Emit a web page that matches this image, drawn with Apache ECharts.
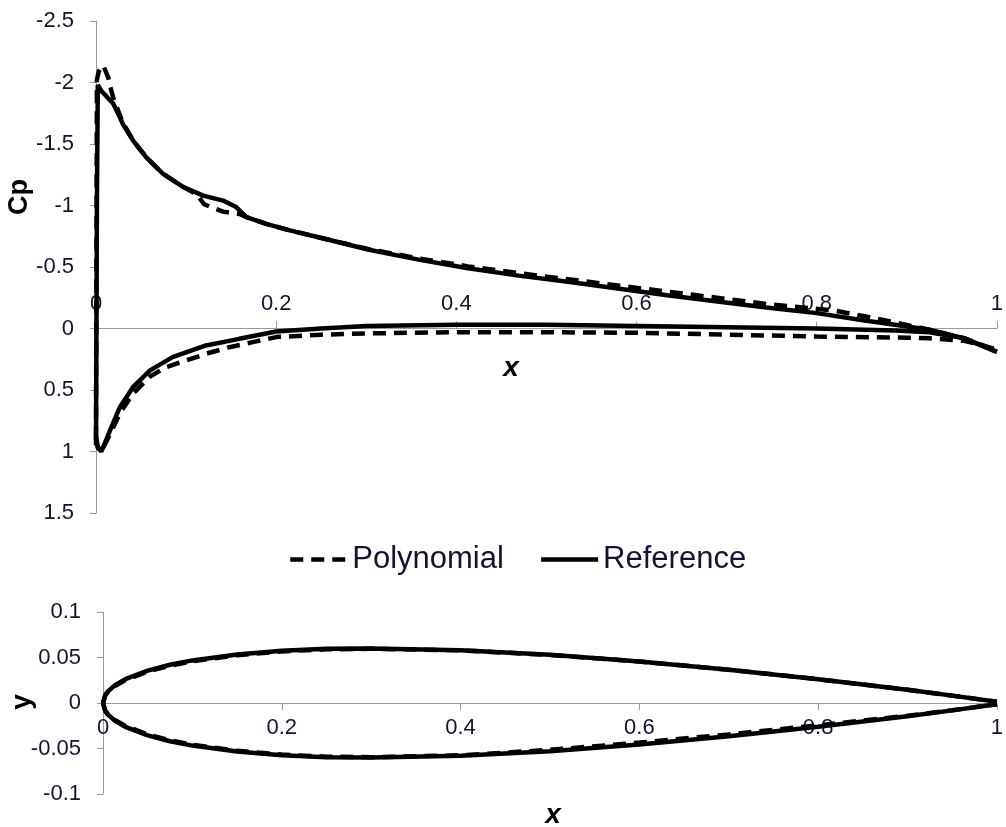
<!DOCTYPE html>
<html>
<head>
<meta charset="utf-8">
<script src="https://cdn.jsdelivr.net/npm/echarts@6/dist/echarts.min.js"></script>
<style>
html,body{margin:0;padding:0;background:#fff;}
#chart{width:1006px;height:827px;}
</style>
</head>
<body>
<div id="chart"></div>
<script>
// ---------- DATA ----------
const seriesNames = ['Polynomial', 'Reference'];
const xTicks = [0, 0.2, 0.4, 0.6, 0.8, 1];
const cpTicks = [-2.5, -2, -1.5, -1, -0.5, 0, 0.5, 1, 1.5];
const yTicks = [-0.1, -0.05, 0, 0.05, 0.1];

// Cp distribution, upper (suction) surface: [x, Cp]
const refCpUpper = [[0.000,0.95],[0.001,-1.0],[0.002,-1.98],[0.004,-1.97],[0.006,-1.93],[0.010,-1.90],[0.015,-1.86],[0.019,-1.83],[0.025,-1.74],[0.030,-1.66],[0.041,-1.53],[0.056,-1.39],[0.074,-1.26],[0.097,-1.15],[0.119,-1.08],[0.141,-1.04],[0.155,-0.99],[0.167,-0.905],[0.189,-0.85],[0.214,-0.80],[0.248,-0.74],[0.303,-0.64],[0.358,-0.56],[0.413,-0.49],[0.469,-0.43],[0.524,-0.38],[0.579,-0.325],[0.634,-0.27],[0.690,-0.22],[0.744,-0.17],[0.800,-0.125],[0.853,-0.065],[0.887,-0.03],[0.925,0.01],[0.964,0.08],[1.000,0.19]];
const polyCpUpper = [[0.000,0.90],[0.001,-2.02],[0.003,-2.09],[0.008,-2.14],[0.0136,-2.04],[0.016,-1.96],[0.019,-1.88],[0.023,-1.80],[0.030,-1.67],[0.041,-1.53],[0.056,-1.39],[0.074,-1.26],[0.097,-1.15],[0.112,-1.09],[0.120,-1.01],[0.130,-0.98],[0.141,-0.95],[0.150,-0.94],[0.160,-0.93],[0.167,-0.905],[0.189,-0.85],[0.214,-0.80],[0.248,-0.74],[0.303,-0.645],[0.358,-0.57],[0.413,-0.505],[0.469,-0.45],[0.524,-0.40],[0.579,-0.35],[0.634,-0.30],[0.667,-0.27],[0.744,-0.20],[0.820,-0.145],[0.853,-0.10],[0.887,-0.05],[0.925,0.01],[0.964,0.08],[1.000,0.18]];
// Cp distribution, lower (pressure) surface: [x, Cp]
const refCpLower = [[0.000,0.90],[0.002,0.97],[0.006,1.00],[0.0155,0.83],[0.0265,0.64],[0.041,0.477],[0.060,0.34],[0.085,0.233],[0.122,0.138],[0.159,0.084],[0.200,0.025],[0.250,0.0],[0.300,-0.02],[0.400,-0.03],[0.500,-0.03],[0.600,-0.02],[0.700,-0.01],[0.800,0.0],[0.887,0.016],[0.925,0.03],[0.964,0.08],[1.000,0.19]];
const polyCpLower = [[0.000,0.88],[0.002,0.96],[0.006,1.00],[0.0155,0.86],[0.0265,0.69],[0.041,0.53],[0.060,0.39],[0.078,0.314],[0.100,0.26],[0.122,0.206],[0.148,0.152],[0.174,0.111],[0.200,0.07],[0.250,0.05],[0.300,0.04],[0.400,0.03],[0.500,0.03],[0.600,0.035],[0.700,0.05],[0.800,0.065],[0.900,0.075],[0.925,0.08],[0.964,0.10],[1.000,0.17]];

// Airfoil shape: [x, y]
const refFoilUpper = [[0,0],[0.0025,0.009],[0.005,0.0122],[0.0125,0.0189],[0.025,0.0262],[0.05,0.0355],[0.075,0.042],[0.1,0.0468],[0.15,0.0534],[0.2,0.0574],[0.25,0.0596],[0.3,0.060],[0.4,0.058],[0.5,0.0529],[0.6,0.0456],[0.7,0.0366],[0.8,0.0262],[0.9,0.0145],[0.95,0.0081],[1.0,0.0013]];
const refFoilLower = [[0,0],[0.0025,-0.009],[0.005,-0.0122],[0.0125,-0.0189],[0.025,-0.0262],[0.05,-0.0355],[0.075,-0.042],[0.1,-0.0468],[0.15,-0.0534],[0.2,-0.0574],[0.25,-0.0596],[0.3,-0.060],[0.4,-0.058],[0.5,-0.0529],[0.6,-0.0456],[0.7,-0.0366],[0.8,-0.0262],[0.9,-0.0145],[0.95,-0.0081],[1.0,-0.0013]];
const polyFoilUpper = [[0,0],[0.0025,0.0085],[0.005,0.0117],[0.0125,0.0182],[0.025,0.0253],[0.05,0.0345],[0.075,0.041],[0.1,0.0458],[0.15,0.0526],[0.2,0.0567],[0.25,0.059],[0.3,0.0596],[0.4,0.0578],[0.5,0.0528],[0.6,0.0456],[0.7,0.0366],[0.8,0.0262],[0.9,0.0145],[0.95,0.0081],[1.0,0.0013]];
const polyFoilLower = [[0,0],[0.0025,-0.0085],[0.005,-0.0117],[0.0125,-0.0182],[0.025,-0.0253],[0.05,-0.0345],[0.075,-0.041],[0.1,-0.0458],[0.15,-0.0526],[0.2,-0.0567],[0.25,-0.059],[0.3,-0.0596],[0.4,-0.0575],[0.5,-0.0515],[0.6,-0.0435],[0.7,-0.0345],[0.8,-0.0245],[0.9,-0.0140],[0.95,-0.0080],[1.0,-0.0013]];

// ---------- CHART ----------
const FONT = '"Liberation Sans", Arial, sans-serif';
const LABEL_COLOR = '#14142e';
const AXIS_COLOR = '#9a9a9a';
const LW = 4.5;
const DASH = [13, 8];

const chart = echarts.init(document.getElementById('chart'), null, {renderer: 'canvas'});

function mkSeries(name, data, xi, yi, dashed) {
  return {
    name: name, type: 'line', data: data,
    xAxisIndex: xi, yAxisIndex: yi,
    showSymbol: false, symbol: 'none', smooth: false,
    lineStyle: {color: '#000', width: LW, type: dashed ? DASH : 'solid', cap: 'butt'},
    itemStyle: {color: '#000'},
    emphasis: {disabled: true},
    z: dashed ? 3 : 2
  };
}

const tickLabel = {fontSize: 22, color: LABEL_COLOR, fontFamily: FONT};

// grid geometry
const G1 = {left: 96, top: 21, width: 905, height: 492};
const G2 = {left: 103, top: 612, width: 900, height: 182};
const zero1 = G1.height * (0 - cpTicks[0]) / (cpTicks[cpTicks.length-1] - cpTicks[0]);
const zero2 = G2.height * (yTicks[yTicks.length-1] - 0) / (yTicks[yTicks.length-1] - yTicks[0]);

const option = {
  animation: false,
  backgroundColor: '#fff',
  grid: [
    Object.assign({containLabel: false}, G1),
    Object.assign({containLabel: false}, G2)
  ],
  legend: {
    data: seriesNames,
    left: 283, top: 539,
    itemWidth: 57, itemHeight: 14, itemGap: 35,
    itemStyle: {opacity: 0},
    lineStyle: {width: 4.5, color: '#000'},
    textStyle: {fontSize: 31, color: LABEL_COLOR, fontFamily: FONT}
  },
  xAxis: [
    {
      type: 'value', gridIndex: 0, min: xTicks[0], max: xTicks[xTicks.length-1], interval: 0.2,
      position: 'bottom', offset: zero1 - G1.height,
      axisLine: {show: true, onZero: false, lineStyle: {color: AXIS_COLOR, width: 1}},
      axisTick: {show: true, inside: true, length: 7, lineStyle: {color: AXIS_COLOR}},
      axisLabel: Object.assign({inside: true, margin: 14, showMaxLabel: true, showMinLabel: true}, tickLabel),
      splitLine: {show: false}
    },
    {
      type: 'value', gridIndex: 1, min: xTicks[0], max: xTicks[xTicks.length-1], interval: 0.2,
      position: 'bottom', offset: zero2 - G2.height,
      axisLine: {show: true, onZero: false, lineStyle: {color: AXIS_COLOR, width: 1}},
      axisTick: {show: true, inside: false, length: 7, lineStyle: {color: AXIS_COLOR}},
      axisLabel: Object.assign({inside: false, margin: 14, showMaxLabel: true, showMinLabel: true}, tickLabel),
      splitLine: {show: false}
    }
  ],
  yAxis: [
    {
      type: 'value', gridIndex: 0, min: cpTicks[0], max: cpTicks[cpTicks.length-1], interval: 0.5, inverse: true,
      axisLine: {show: true, onZero: false, lineStyle: {color: AXIS_COLOR, width: 1}},
      axisTick: {show: true, inside: false, length: 6, lineStyle: {color: AXIS_COLOR}},
      axisLabel: Object.assign({margin: 22}, tickLabel),
      splitLine: {show: false}
    },
    {
      type: 'value', gridIndex: 1, min: yTicks[0], max: yTicks[yTicks.length-1], interval: 0.05,
      axisLine: {show: true, onZero: false, lineStyle: {color: AXIS_COLOR, width: 1}},
      axisTick: {show: true, inside: false, length: 6, lineStyle: {color: AXIS_COLOR}},
      axisLabel: Object.assign({margin: 22}, tickLabel),
      splitLine: {show: false}
    }
  ],
  graphic: [
    {type: 'text', x: 20, y: 197, rotation: Math.PI/2,
     style: {text: 'Cp', fontSize: 27, fontWeight: 'bold', fontFamily: FONT, fill: '#000', align: 'center', verticalAlign: 'middle'}},
    {type: 'text', x: 511, y: 368,
     style: {text: 'x', fontSize: 28, fontWeight: 'bold', fontStyle: 'italic', fontFamily: FONT, fill: '#000', align: 'center', verticalAlign: 'middle'}},
    {type: 'text', x: 22, y: 702, rotation: Math.PI/2,
     style: {text: 'y', fontSize: 28, fontWeight: 'bold', fontFamily: FONT, fill: '#000', align: 'center', verticalAlign: 'middle'}},
    {type: 'text', x: 553, y: 815,
     style: {text: 'x', fontSize: 28, fontWeight: 'bold', fontStyle: 'italic', fontFamily: FONT, fill: '#000', align: 'center', verticalAlign: 'middle'}}
  ],
  series: [
    mkSeries(seriesNames[0], polyCpUpper, 0, 0, true),
    mkSeries(seriesNames[0], polyCpLower, 0, 0, true),
    mkSeries(seriesNames[1], refCpUpper, 0, 0, false),
    mkSeries(seriesNames[1], refCpLower, 0, 0, false),
    mkSeries(seriesNames[0], polyFoilUpper, 1, 1, true),
    mkSeries(seriesNames[0], polyFoilLower, 1, 1, true),
    mkSeries(seriesNames[1], refFoilUpper, 1, 1, false),
    mkSeries(seriesNames[1], refFoilLower, 1, 1, false)
  ]
};
chart.setOption(option);
</script>
</body>
</html>
